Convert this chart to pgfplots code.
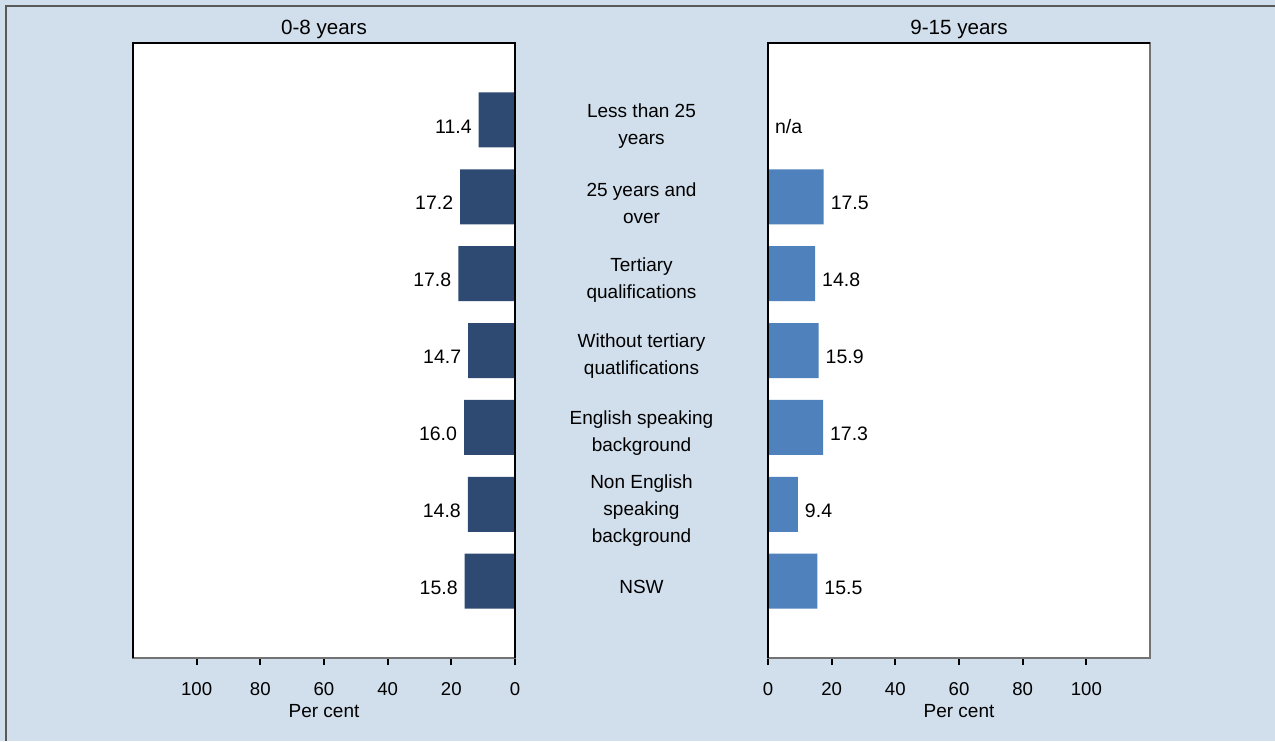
\documentclass[border=0pt]{standalone}
\usepackage{fontspec}
\setmainfont{Liberation Sans}
\usepackage{pgfplots}
\usepackage{pgfplotstable}
\pgfplotsset{compat=1.18}

\definecolor{bgblue}{HTML}{D1DEEC}
\definecolor{darkbar}{HTML}{2E4A72}
\definecolor{lightbar}{HTML}{4F81BD}

% share of children, per cent
\pgfplotstableread{
y v    lab
1 11.4 11.4
2 17.2 17.2
3 17.8 17.8
4 14.7 14.7
5 16.0 16.0
6 14.8 14.8
7 15.8 15.8
}\younger

\pgfplotstableread{
y v    lab
1 0    n/a
2 17.5 17.5
3 14.8 14.8
4 15.9 15.9
5 17.3 17.3
6 9.4  9.4
7 15.5 15.5
}\older

\pgfplotsset{
  panel/.style={
    scale only axis, width=191pt, height=307.5pt,
    anchor=south west,
    xmin=0, xmax=120, ymin=0, ymax=8, y dir=reverse,
    xbar, bar width=27.5pt,
    xtick={0,20,...,100}, ytick=\empty, xtick pos=bottom,
    tick align=outside, major tick length=3.5pt,
    xtick style={black, line width=0.9pt},
    axis background/.style={fill=white},
    axis line style={black!55, line width=0.75pt},
    font=\fontsize{9.5}{13.5}\selectfont,
    /pgf/number format/assume math mode=true,
    xticklabel style={anchor=base, font=\fontsize{9.3}{11}\selectfont},
    xticklabel shift=15pt,
    xlabel={Per cent},
    xlabel style={at={(axis description cs:0.5,0)}, anchor=base, yshift=-29.5pt},
    title style={at={(axis description cs:0.5,1)}, anchor=base, yshift=-1.5pt,
      font=\fontsize{10.3}{12}\selectfont},
    nodes near coords={\fontsize{9.75}{12}\selectfont\pgfplotspointmeta},
    point meta=explicit symbolic,
    every node near coord/.append style={yshift=-3.2pt},
    clip=false,
  },
}

\begin{document}
\begin{tikzpicture}
\useasboundingbox (0,0) rectangle (637.5pt,370.5pt);
\fill[bgblue] (0,0) rectangle (637.5pt,370.5pt);
\draw[black!65, line width=0.8pt] (3pt,0) -- (3pt,367.5pt) -- (637.5pt,367.5pt);

\begin{axis}[panel, at={(66.5pt,41.5pt)}, x dir=reverse, title={0-8 years},
  every node near coord/.append style={anchor=east}]
  \addplot[fill=darkbar, draw=none] table[x=v, y=y, meta=lab] {\younger};
  \draw[black, line width=0.75pt] (axis description cs:0,0) -- (axis description cs:0,1)
    -- (axis description cs:1,1) -- (axis description cs:1,0);
\end{axis}

\begin{axis}[panel, at={(384pt,41.5pt)}, title={9-15 years},
  every node near coord/.append style={anchor=west},
  ytick={1,...,7}, ytick style={draw=none},
  yticklabels={{Less than 25\\years}, {25 years and\\over}, {Tertiary\\qualifications},
    {Without tertiary\\quatlifications}, {English speaking\\background},
    {Non English\\speaking\\background}, {NSW}},
  yticklabel style={align=center, anchor=center, yshift=-3pt},
  yticklabel shift=59.75pt]
  \addplot[fill=lightbar, draw=none] table[x=v, y=y, meta=lab] {\older};
  \draw[black, line width=0.75pt] (axis description cs:0,0) -- (axis description cs:0,1)
    -- (axis description cs:1,1);
\end{axis}
\end{tikzpicture}
\end{document}
